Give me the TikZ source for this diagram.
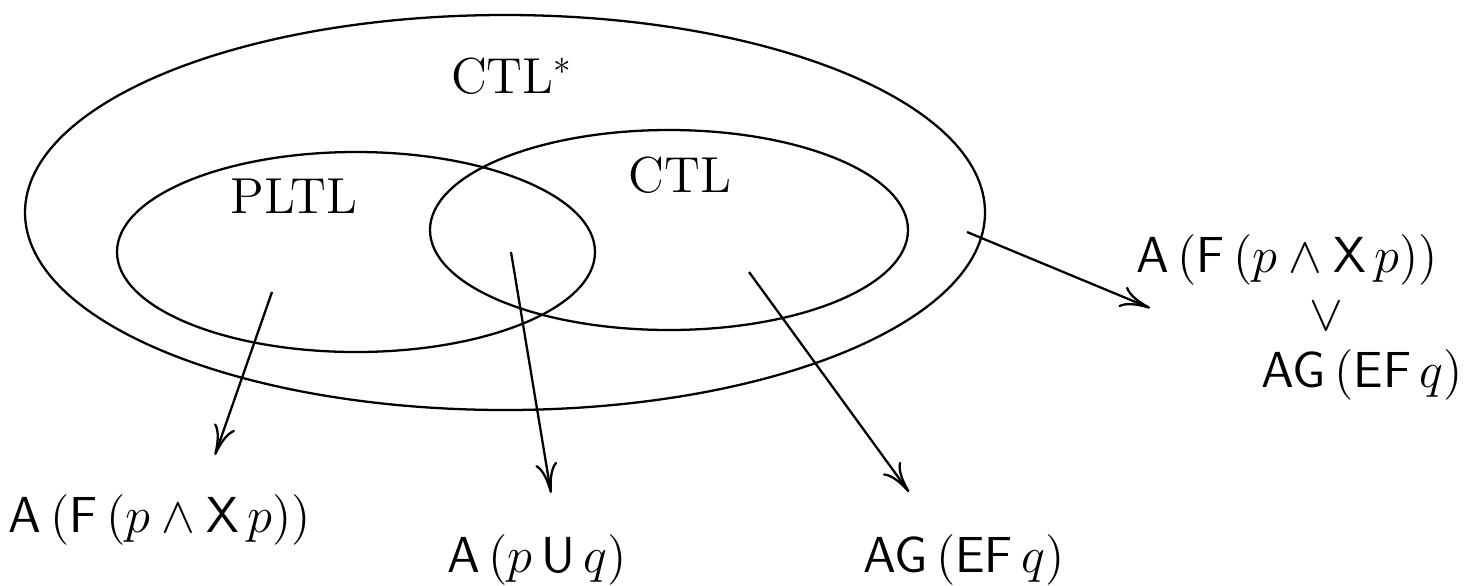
\documentclass[tikz,border=0pt]{standalone}
\usepackage{amsmath,amssymb}
\usepackage{tikz}
\usetikzlibrary{arrows.meta}

\begin{document}
\begin{tikzpicture}[>={To[length=3mm,width=2.2mm]}, line width=0.65pt, every node/.style={font=\Large}]
        \useasboundingbox (0,0) rectangle (14.7,5.85);

        % Conjunto CTL*
        \draw (5.05,3.725) ellipse [x radius=4.80, y radius=1.975];
        \node[anchor=base] (ctlstar) at (5.12,4.92) {CTL$^*$};

        % Conjuntos PLTL y CTL
        \def\erx{2.39}
        \def\ery{1.00}
        \draw (3.56,3.33) ellipse [x radius=\erx, y radius=\ery];
        \draw (6.69,3.55) ellipse [x radius=\erx, y radius=\ery];
        \node[anchor=base] (pltl) at (2.94,3.72) {PLTL};
        \node[anchor=base] (ctl) at (6.80,3.93) {CTL};

        % Fórmulas de ejemplo
        \node[anchor=base] (fpltl) at (1.60,0.53) {$\mathsf{A}\,(\mathsf{F}\,(p \wedge \mathsf{X}\,p))$};
        \node[anchor=base] (fboth) at (5.37,0.13) {$\mathsf{A}\,(p\,\mathsf{U}\,q)$};
        \node[anchor=base] (fctl) at (9.64,0.13) {$\mathsf{AG}\,(\mathsf{EF}\,q)$};
        \node[anchor=base] (fstar1) at (12.87,3.13) {$\mathsf{A}\,(\mathsf{F}\,(p \wedge \mathsf{X}\,p))$};
        \node[anchor=base] (fstar2) at (13.26,2.55) {$\vee$};
        \node[anchor=base] (fstar3) at (13.62,1.98) {$\mathsf{AG}\,(\mathsf{EF}\,q)$};

        % Puntos de partida y llegada de las flechas
        \coordinate (s1) at (2.72,2.93);
        \coordinate (t1) at (2.15,1.30);
        \coordinate (s2) at (5.11,3.33);
        \coordinate (t2) at (5.51,0.92);
        \coordinate (s3) at (7.49,3.13);
        \coordinate (t3) at (9.09,0.93);
        \coordinate (s4) at (9.67,3.53);
        \coordinate (t4) at (11.50,2.77);

        % Flechas
        \draw[->] (s1) -- (t1);
        \draw[->] (s2) -- (t2);
        \draw[->] (s3) -- (t3);
        \draw[->] (s4) -- (t4);

    \end{tikzpicture}
\end{document}
